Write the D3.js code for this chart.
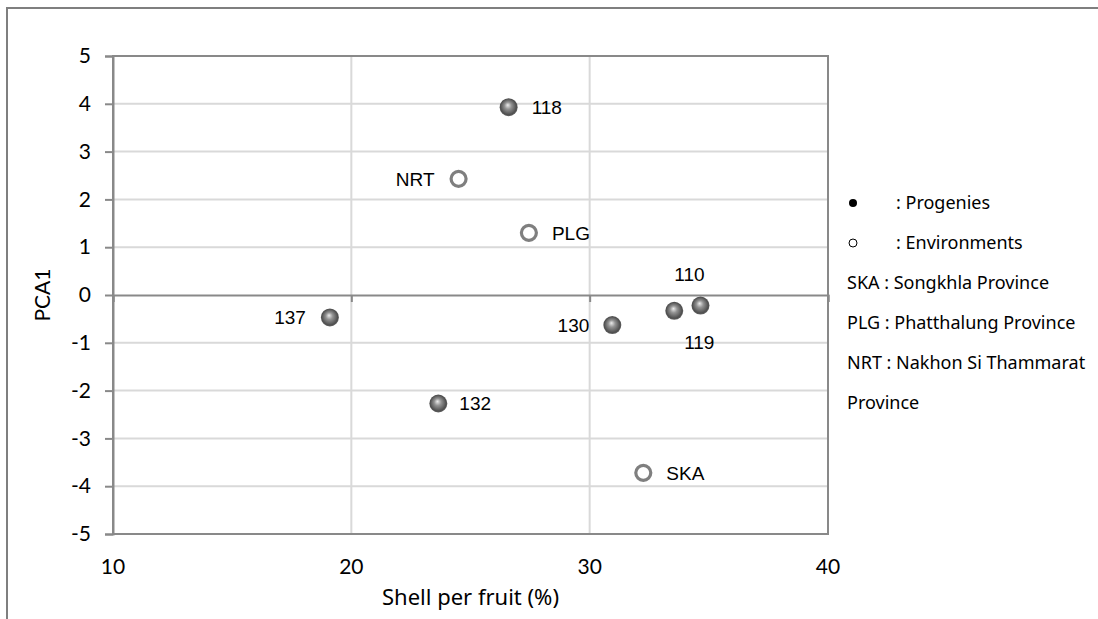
<!DOCTYPE html>
<html>
<head>
<meta charset="utf-8">
<script src="https://cdn.jsdelivr.net/npm/d3@7"></script>
<style>
  html, body { margin: 0; padding: 0; background: #fff; }
  svg { display: block; }
</style>
</head>
<body>
<svg id="chart" width="1098" height="619"></svg>
<script>
// Progenies and growing environments plotted on shell percentage vs. first principal component
const pointNames = ["118", "NRT", "PLG", "110", "119", "130", "137", "132", "SKA"];
const shellPct   = [26.6, 24.5, 27.45, 34.65, 33.55, 30.95, 19.1, 23.65, 32.25];
const pca1       = [3.93, 2.43, 1.30, -0.22, -0.33, -0.63, -0.47, -2.27, -3.72];
const pointKind  = ["progeny", "env", "env", "progeny", "progeny", "progeny", "progeny", "progeny", "env"];

const xTicks = [10, 20, 30, 40];
const yTicks = [-5, -4, -3, -2, -1, 0, 1, 2, 3, 4, 5];
const xTitle = "Shell per fruit (%)";
const yTitle = "PCA1";
const legendLines = [
  ": Progenies",
  ": Environments",
  "SKA : Songkhla Province",
  "PLG : Phatthalung Province",
  "NRT : Nakhon Si Thammarat",
  "Province"
];

// label placement around each marker: [dx, dy] from the marker centre, plus anchor
const labelPlacement = {
  "118": [23, 0, "start"],
  "NRT": [-24, 0, "end"],
  "PLG": [23, 0, "start"],
  "110": [-11, -31, "middle"],
  "119": [25, 31, "middle"],
  "130": [-23, 0, "end"],
  "137": [-24, 0, "end"],
  "132": [21, 0, "start"],
  "SKA": [23, 0, "start"]
};

const svg = d3.select("#chart");
const axisGray = "#898989";
const gridGray = "#d9d9d9";
const tickFont = "Lato, 'Open Sans', sans-serif";
const labelFont = "'Liberation Sans', Arial, sans-serif";
const legendFont = "'Noto Sans', 'Open Sans', sans-serif";

const plot = { left: 113, right: 828, top: 56, bottom: 534 };
const x = d3.scaleLinear().domain([10, 40]).range([plot.left, plot.right]);
const y = d3.scaleLinear().domain([-5, 5]).range([plot.bottom, plot.top]);

// outer chart frame (left and top edges)
svg.append("path")
  .attr("d", `M7,619 L7,8 L1098,8`)
  .attr("fill", "none")
  .attr("stroke", "#7f7f7f")
  .attr("stroke-width", 2);

// sphere gradient for progeny markers
const defs = svg.append("defs");
const grad = defs.append("radialGradient")
  .attr("id", "sphere")
  .attr("cx", "50%").attr("cy", "50%").attr("r", "55%")
  .attr("fx", "45%").attr("fy", "38%");
grad.append("stop").attr("offset", "0%").attr("stop-color", "#ececec");
grad.append("stop").attr("offset", "35%").attr("stop-color", "#939393");
grad.append("stop").attr("offset", "80%").attr("stop-color", "#4f4f4f");
grad.append("stop").attr("offset", "100%").attr("stop-color", "#707070");

// gridlines
const grid = svg.append("g");
grid.selectAll("line.v")
  .data(xTicks.filter(t => t !== 10 && t !== 40))
  .join("line")
  .attr("x1", d => x(d)).attr("x2", d => x(d))
  .attr("y1", plot.top).attr("y2", plot.bottom)
  .attr("stroke", gridGray).attr("stroke-width", 2);
grid.selectAll("line.h")
  .data(yTicks.filter(t => t !== 0 && t !== 5 && t !== -5))
  .join("line")
  .attr("x1", plot.left).attr("x2", plot.right)
  .attr("y1", d => y(d)).attr("y2", d => y(d))
  .attr("stroke", gridGray).attr("stroke-width", 2);

// plot-area border
svg.append("rect")
  .attr("x", plot.left).attr("y", plot.top)
  .attr("width", plot.right - plot.left).attr("height", plot.bottom - plot.top)
  .attr("fill", "none").attr("stroke", axisGray).attr("stroke-width", 2);

// vertical axis
const yAxis = d3.axisLeft(y).tickValues(yTicks).tickSize(8).tickPadding(14).tickFormat(d => String(d));
const gy = svg.append("g").attr("transform", `translate(${plot.left},0)`).call(yAxis);
gy.select(".domain").attr("stroke", axisGray).attr("stroke-width", 2);
gy.selectAll(".tick line").attr("stroke", axisGray).attr("stroke-width", 2);
gy.selectAll(".tick text")
  .attr("font-family", tickFont).attr("font-size", 21).attr("fill", "#000");

// horizontal axis crossing at PCA1 = 0, labels along the bottom
const xAxis = d3.axisBottom(x).tickValues(xTicks).tickSize(7).tickFormat(() => "");
const gx = svg.append("g").attr("transform", `translate(0,${y(0)})`).call(xAxis);
gx.select(".domain").attr("stroke", axisGray).attr("stroke-width", 2);
gx.selectAll(".tick line").attr("stroke", axisGray).attr("stroke-width", 2);

svg.append("g").selectAll("text")
  .data(xTicks)
  .join("text")
  .attr("x", d => x(d))
  .attr("y", 574)
  .attr("text-anchor", "middle")
  .attr("font-family", tickFont).attr("font-size", 21).attr("fill", "#000")
  .text(d => d);

// axis titles
svg.append("text")
  .attr("x", (plot.left + plot.right) / 2)
  .attr("y", 605)
  .attr("text-anchor", "middle")
  .attr("font-family", legendFont).attr("font-size", 22).attr("fill", "#000")
  .text(xTitle);

svg.append("text")
  .attr("transform", `translate(50,${(plot.top + plot.bottom) / 2}) rotate(-90)`)
  .attr("text-anchor", "middle")
  .attr("font-family", tickFont).attr("font-size", 21).attr("fill", "#000")
  .text(yTitle);

// markers
const pts = pointNames.map((n, i) => ({ name: n, sx: shellPct[i], py: pca1[i], kind: pointKind[i] }));
const markers = svg.append("g");
markers.selectAll("circle.prog")
  .data(pts.filter(d => d.kind === "progeny"))
  .join("circle")
  .attr("cx", d => x(d.sx)).attr("cy", d => y(d.py))
  .attr("r", 9)
  .attr("fill", "url(#sphere)");
markers.selectAll("circle.env")
  .data(pts.filter(d => d.kind === "env"))
  .join("circle")
  .attr("cx", d => x(d.sx)).attr("cy", d => y(d.py))
  .attr("r", 7.5)
  .attr("fill", "#fff")
  .attr("stroke", "#7f7f7f")
  .attr("stroke-width", 3.2);

// point labels
svg.append("g").selectAll("text")
  .data(pts)
  .join("text")
  .attr("x", d => x(d.sx) + labelPlacement[d.name][0])
  .attr("y", d => y(d.py) + labelPlacement[d.name][1])
  .attr("dy", "0.36em")
  .attr("text-anchor", d => labelPlacement[d.name][2])
  .attr("font-family", labelFont).attr("font-size", 19).attr("fill", "#000")
  .text(d => d.name);

// legend
const legend = svg.append("g");
const legendY = d3.range(legendLines.length).map(i => 203 + i * 40);
legend.append("circle").attr("cx", 853).attr("cy", legendY[0]).attr("r", 4).attr("fill", "#000");
legend.append("circle").attr("cx", 853).attr("cy", legendY[1]).attr("r", 4)
  .attr("fill", "#fff").attr("stroke", "#000").attr("stroke-width", 1);
legend.selectAll("text")
  .data(legendLines)
  .join("text")
  .attr("x", (d, i) => i < 2 ? 896 : 847)
  .attr("y", (d, i) => legendY[i])
  .attr("dy", "0.36em")
  .attr("font-family", legendFont).attr("font-size", 18).attr("fill", "#000")
  .text(d => d);
</script>
</body>
</html>
